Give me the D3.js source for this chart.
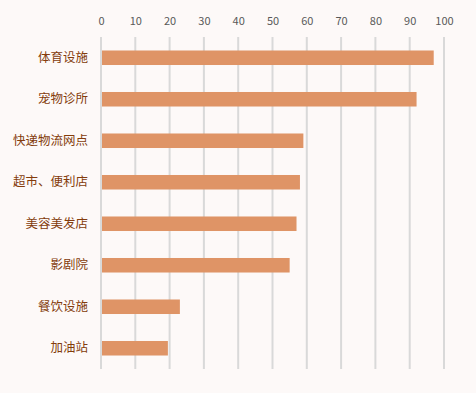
<!DOCTYPE html>
<html><head><meta charset="utf-8">
<script src="https://cdn.jsdelivr.net/npm/d3@7"></script>
<style>
html,body{margin:0;padding:0;background:#fdf9f8;}
svg{display:block;}
</style></head>
<body>
<svg id="chart" width="476" height="393"></svg>
<script>
const categories = ["体育设施","宠物诊所","快递物流网点","超市、便利店","美容美发店","影剧院","餐饮设施","加油站"];
const values = [97, 92, 59, 58, 57, 55, 23, 19.5];
const tickValues = [0,10,20,30,40,50,60,70,80,90,100];

const svg = d3.select("#chart");
svg.append("rect").attr("width",476).attr("height",393).attr("fill","#fdf9f8");
const m = {left:101, right:32, top:37, bottom:24};
const W = 476, H = 393;
const x = d3.scaleLinear().domain([0,100]).range([m.left, W - m.right]);
const y = d3.scaleBand().domain(categories).range([m.top, H - m.bottom]).paddingInner(0.65).paddingOuter(0.325);

// gridlines
svg.append("g").selectAll("line").data(tickValues).join("line")
  .attr("x1", d=>x(d)).attr("x2", d=>x(d))
  .attr("y1", m.top).attr("y2", H - m.bottom)
  .attr("stroke", "#d9d9d9").attr("stroke-width", 2);

// top axis labels
const ax = svg.append("g").attr("transform", `translate(0,${m.top-12})`)
  .call(d3.axisTop(x).tickValues(tickValues).tickSize(0).tickPadding(0));
ax.select(".domain").remove();
ax.selectAll("text").attr("fill","#595959").style("font-family","'Noto Sans CJK SC', 'DejaVu Sans', sans-serif").style("font-size","11px");

// bars
svg.append("g").selectAll("rect").data(categories).join("rect")
  .attr("x", x(0)+1).attr("y", d=>y(d))
  .attr("width", (d,i)=>x(values[i]) - x(0) - 1)
  .attr("height", y.bandwidth())
  .attr("fill", "#df9466");

// category labels
const ay = svg.append("g").attr("transform", `translate(${m.left-13},0)`)
  .call(d3.axisLeft(y).tickSize(0).tickPadding(0));
ay.select(".domain").remove();
ay.selectAll("text").attr("fill","#843c0c").style("font-family","'Noto Sans CJK SC', sans-serif").style("font-size","12.5px");
</script>
</body></html>
